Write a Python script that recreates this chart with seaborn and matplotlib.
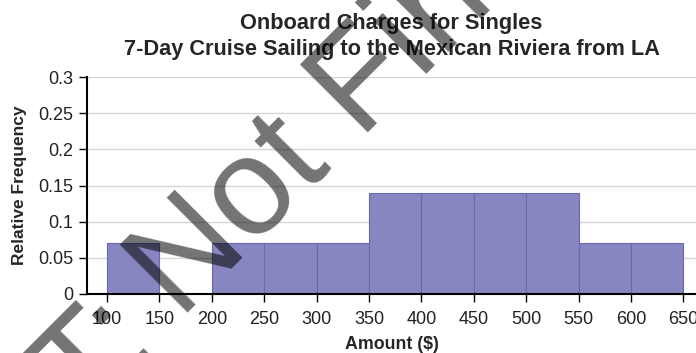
import matplotlib
matplotlib.use("Agg")
import matplotlib.pyplot as plt
import seaborn as sns
import numpy as np

# Relative frequency of onboard charges per $50 class
bin_edges = [100, 150, 200, 250, 300, 350, 400, 450, 500, 550, 600, 650]
rel_freq = [0.07, 0.0, 0.07, 0.07, 0.07, 0.14, 0.14, 0.14, 0.14, 0.07, 0.07]
x_ticks = [100, 150, 200, 250, 300, 350, 400, 450, 500, 550, 600, 650]
y_ticks = [0, 0.05, 0.1, 0.15, 0.2, 0.25, 0.3]
y_tick_labels = ["0", "0.05", "0.1", "0.15", "0.2", "0.25", "0.3"]

class_mids = [(a + b) / 2 for a, b in zip(bin_edges[:-1], bin_edges[1:])]

sns.set_theme(style="white")
plt.rcParams["font.family"] = ["Liberation Sans", "DejaVu Sans"]

W, H = 696, 353
fig = plt.figure(figsize=(W / 100, H / 100), dpi=100)
ax = fig.add_axes([87 / W, 1 - 294 / H, 1 - 87 / W, (294 - 77) / H])

sns.histplot(x=class_mids, weights=rel_freq, bins=bin_edges, stat="count",
             color="#8886c0", edgecolor="#6b68b2", linewidth=0.8, alpha=1.0, ax=ax)

ax.set_xlim(80.9, 662)
ax.set_ylim(0, 0.3)
ax.set_xticks(x_ticks)
ax.set_yticks(y_ticks)
ax.set_yticklabels(y_tick_labels)

for lab in ax.get_xticklabels() + ax.get_yticklabels():
    lab.set_fontfamily(["Liberation Sans Narrow", "Liberation Sans"])
    lab.set_fontsize(13)
    lab.set_color("#222222")

ax.yaxis.grid(True, color="#d6d6d6", linewidth=1)
ax.set_axisbelow(True)
for side in ["top", "right"]:
    ax.spines[side].set_visible(False)
for side in ["left", "bottom"]:
    ax.spines[side].set_color("black")
    ax.spines[side].set_linewidth(1.5)
ax.tick_params(axis="x", direction="out", length=6, width=1, color="black",
               bottom=True, pad=6)
ax.tick_params(axis="y", direction="out", length=6, width=1, color="black",
               left=True, pad=4)

ax.set_xlabel("Amount ($)", fontsize=12.8, fontweight="bold", labelpad=6)
ax.set_ylabel("Relative Frequency", fontsize=12.5, fontweight="bold", labelpad=8)
ax.set_title("Onboard Charges for Singles\n7-Day Cruise Sailing to the Mexican Riviera from LA",
             fontsize=15.7, fontweight="bold", pad=16, linespacing=1.3)

# Diagonal draft watermark, anchored where "Not" begins on the baseline
wm_kw = dict(rotation=45, rotation_mode="anchor", va="baseline", fontsize=100,
             fontweight="normal", color="black", alpha=0.55, family="Liberation Sans")
start_x, start_y = 180, 320          # pixel position of the start of "Not"
gap = 20                             # space before "Not", per axis along 45 degrees
fig.text(start_x / W, 1 - start_y / H, "Not Final", ha="left", **wm_kw)
fig.text((start_x - gap) / W, 1 - (start_y + gap) / H, "DRAFT:", ha="right", **wm_kw)

fig.savefig("out.png", dpi=100)
